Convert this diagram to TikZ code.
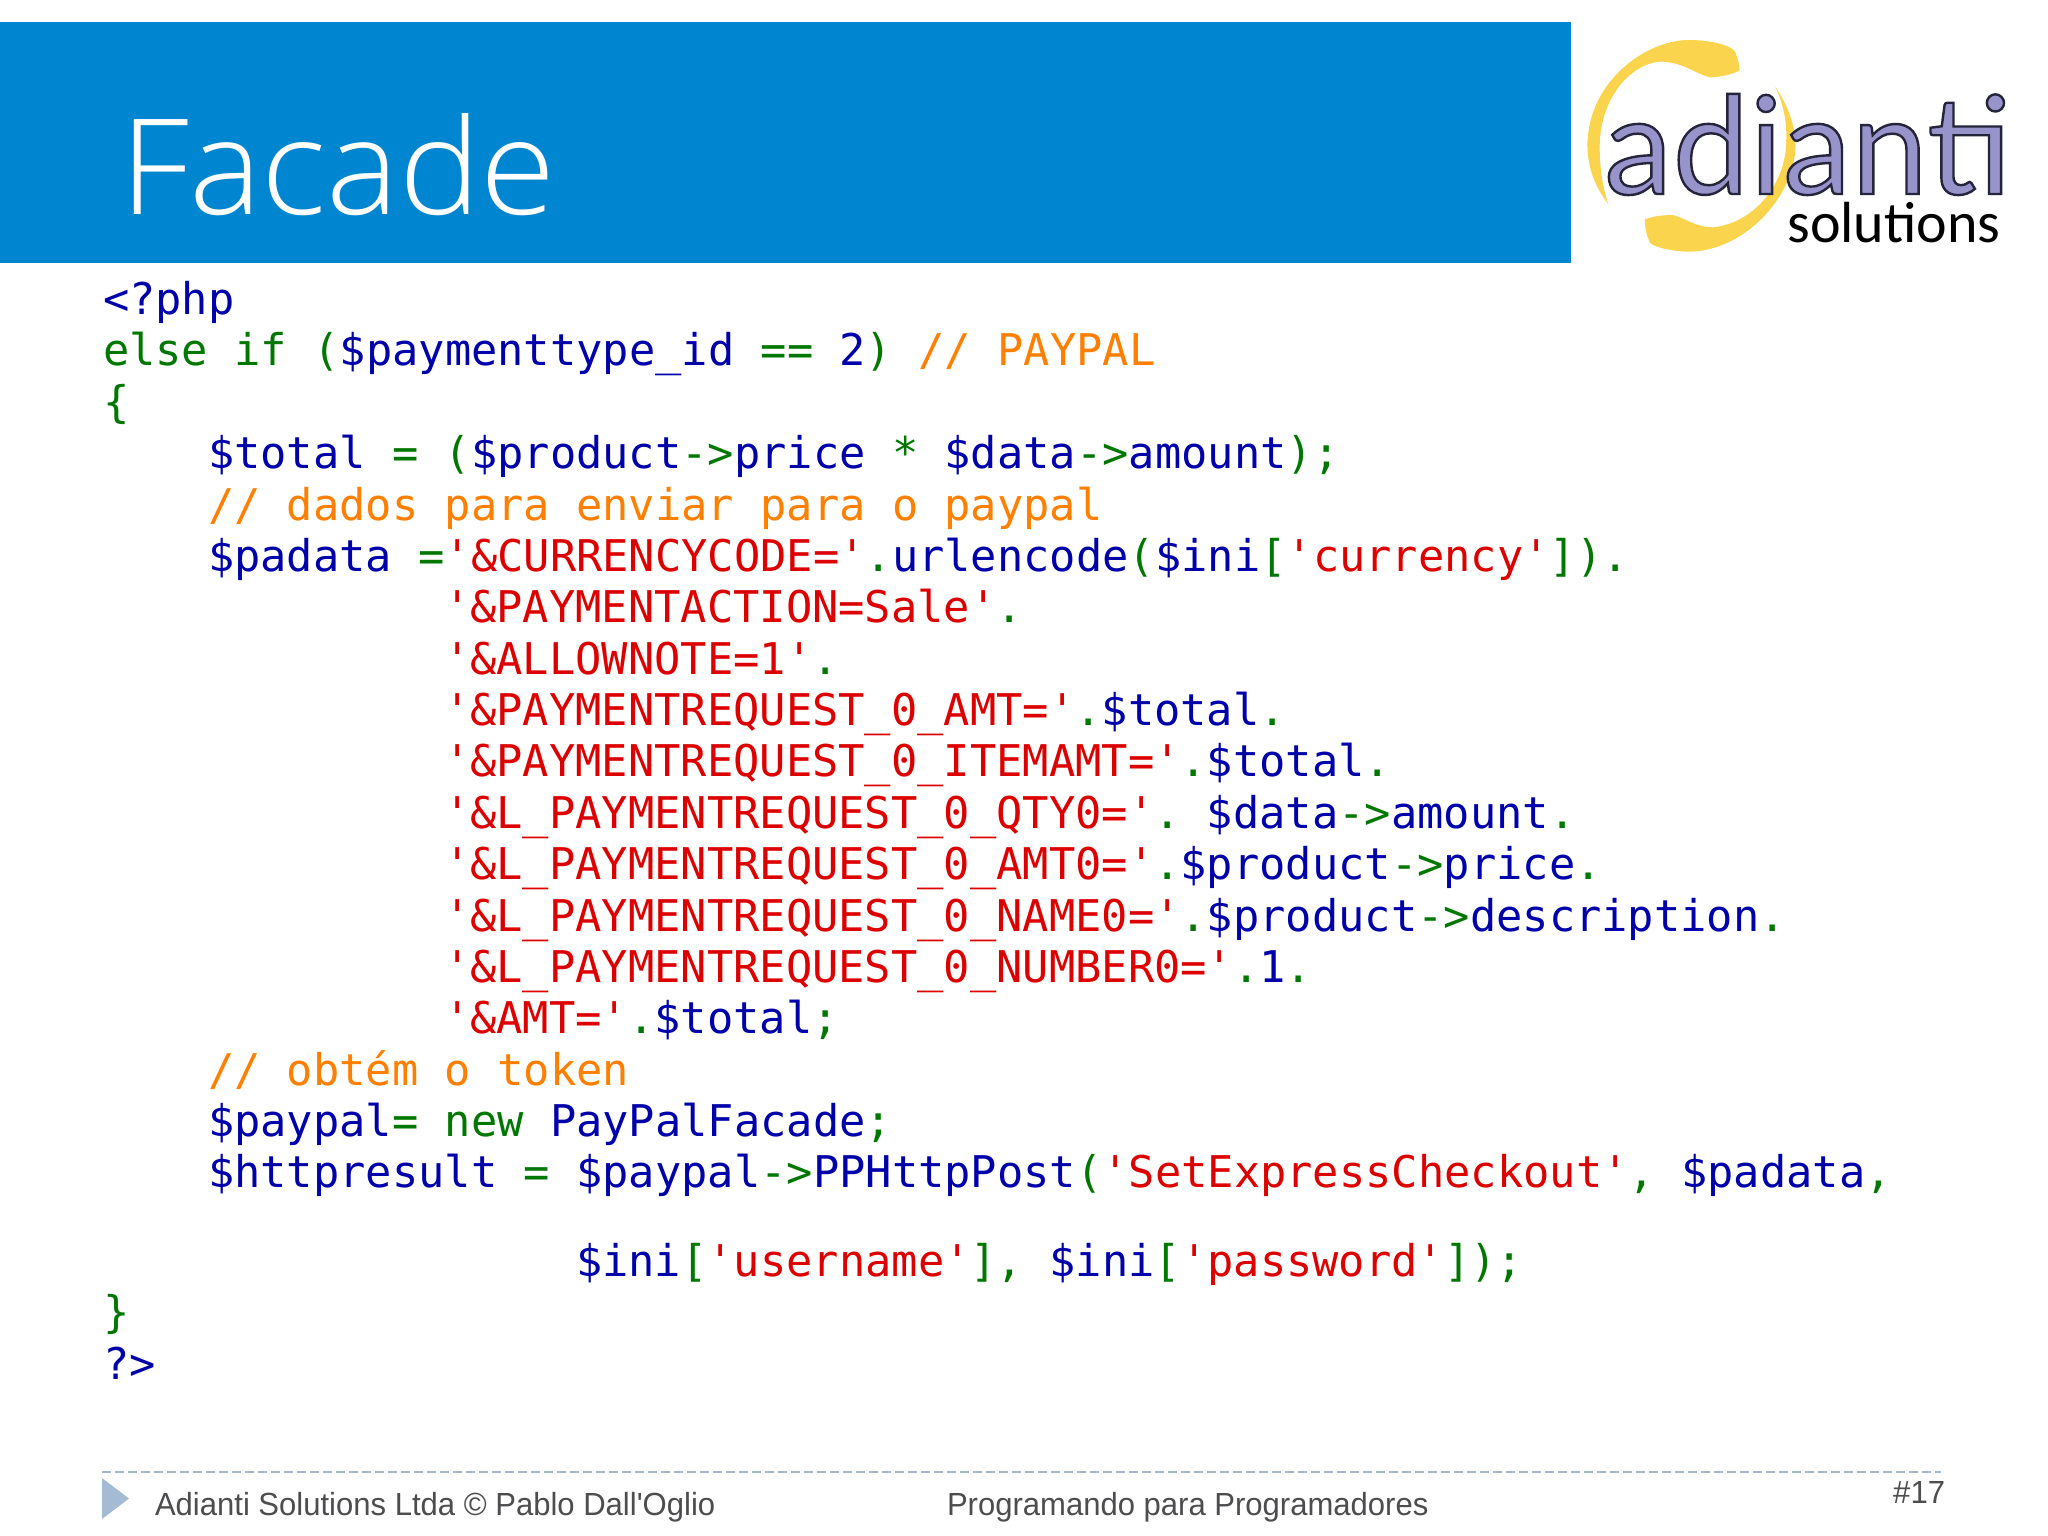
\documentclass[tikz,border=0pt]{standalone}
\usepackage{fontspec}
\newfontfamily\footfont{Liberation Sans}[FakeStretch=0.97]
\newfontfamily\codefont{DejaVu Sans Mono}
\newfontfamily\titlefont{Open Sans Light}[FakeStretch=1.03]
\newfontfamily\logofont{Lato}[LetterSpace=0.6]
\newfontfamily\subfont{Carlito}
\definecolor{headblue}{HTML}{0085D1}
\definecolor{kwgreen}{HTML}{007700}
\definecolor{varblue}{HTML}{0000AA}
\definecolor{strred}{HTML}{DD0000}
\definecolor{cmtorange}{HTML}{FF8000}
\definecolor{footgray}{HTML}{4D4D4F}
\definecolor{footblue}{HTML}{A5BBD3}
\definecolor{dashblue}{HTML}{A3B9C9}
\definecolor{logoyellow}{HTML}{FBD44E}
\definecolor{logopurple}{HTML}{9794CB}
\newcommand{\KW}[1]{\textcolor{kwgreen}{#1}}
\newcommand{\VB}[1]{\textcolor{varblue}{#1}}
\newcommand{\ST}[1]{\textcolor{strred}{#1}}
\newcommand{\CM}[1]{\textcolor{cmtorange}{#1}}
\newcommand{\outlined}[1]{{\color{logopurple}\special{pdf:code 2 Tr 1.2 w 0.14 0.14 0.23 RG}#1\special{pdf:code 0 Tr}}}
\tikzset{
  codeline/.style={anchor=base west,inner sep=0pt,outer sep=0pt,font=\codefont\fontsize{21.85pt}{26pt}\selectfont\frenchspacing},
  foottext/.style={inner sep=0pt,outer sep=0pt,text=footgray,font=\footfont\fontsize{16pt}{19pt}\selectfont},
  ringpart/.style={fill=logoyellow,draw=none}
}
\begin{document}
\begin{tikzpicture}[x=0.5pt,y=-0.5pt]
\useasboundingbox (0,0) rectangle (2048,1535);
\fill[white] (0,0) rectangle (2048,1535);
% header
\fill[headblue] (0,22) rectangle (1571,263);
\node[anchor=base west,inner sep=0pt,text=white,font=\titlefont\fontsize{66.5pt}{70pt}\selectfont] (title) at (120,215) {Facade};
% logo ring
\begin{scope}[shift={(1500,0)},xscale=0.3497,yscale=0.3333]
\path[ringpart] (310,612) .. controls (255,540) and (250,470) .. (250,430)
  .. controls (255,240) and (420,120) .. (540,120)
  .. controls (600,120) and (660,135) .. (672,155)
  .. controls (680,175) and (685,195) .. (685,212)
  .. controls (660,225) and (625,232) .. (600,232)
  .. controls (560,222) and (520,185) .. (460,185)
  .. controls (370,190) and (285,300) .. (285,440)
  .. controls (285,510) and (295,570) .. (310,612) -- cycle;
\path[ringpart] (787,260) .. controls (825,320) and (845,380) .. (845,440)
  .. controls (840,600) and (690,755) .. (540,755)
  .. controls (500,755) and (450,745) .. (430,730)
  .. controls (420,710) and (412,680) .. (415,658)
  .. controls (440,648) and (470,645) .. (495,645)
  .. controls (530,655) and (560,682) .. (610,682)
  .. controls (720,670) and (815,560) .. (818,430)
  .. controls (822,370) and (810,310) .. (787,260) -- cycle;
\end{scope}
% logo text
\node[anchor=base west,inner sep=0pt,font=\logofont\fontsize{68pt}{72pt}\selectfont] (logotext) at (1604,194) {\outlined{adianti}};
\node[anchor=base west,inner sep=0pt,text=black,font=\subfont\fontsize{29pt}{32pt}\selectfont] (logosub) at (1787,243) {solutions};
% code
\node[codeline] (l0) at (103,314.4) {\VB{<?php}};
\node[codeline] (l1) at (103,365.8) {\KW{else if (}\VB{\$paymenttype\_id} \KW{==} \VB{2}\KW{)} \CM{// PAYPAL}};
\node[codeline] (l2) at (103,417.2) {\KW{\{}};
\node[codeline] (l3) at (208,468.6) {\VB{\$total} \KW{= (}\VB{\$product}\KW{->}\VB{price} \KW{*} \VB{\$data}\KW{->}\VB{amount}\KW{);}};
\node[codeline] (l4) at (208,520) {\CM{// dados para enviar para o paypal}};
\node[codeline] (l5) at (208,571.4) {\VB{\$padata} \KW{=}\ST{'\&CURRENCYCODE='}\KW{.}\VB{urlencode}\KW{(}\VB{\$ini}\KW{[}\ST{'currency'}\KW{]).}};
\node[codeline] (l6) at (444,622.6) {\ST{'\&PAYMENTACTION=Sale'}\KW{.}};
\node[codeline] (l7) at (444,674) {\ST{'\&ALLOWNOTE=1'}\KW{.}};
\node[codeline] (l8) at (444,725.4) {\ST{'\&PAYMENTREQUEST\_0\_AMT='}\KW{.}\VB{\$total}\KW{.}};
\node[codeline] (l9) at (444,776.8) {\ST{'\&PAYMENTREQUEST\_0\_ITEMAMT='}\KW{.}\VB{\$total}\KW{.}};
\node[codeline] (l10) at (444,828.2) {\ST{'\&L\_PAYMENTREQUEST\_0\_QTY0='}\KW{.} \VB{\$data}\KW{->}\VB{amount}\KW{.}};
\node[codeline] (l11) at (444,879.6) {\ST{'\&L\_PAYMENTREQUEST\_0\_AMT0='}\KW{.}\VB{\$product}\KW{->}\VB{price}\KW{.}};
\node[codeline] (l12) at (444,931) {\ST{'\&L\_PAYMENTREQUEST\_0\_NAME0='}\KW{.}\VB{\$product}\KW{->}\VB{description}\KW{.}};
\node[codeline] (l13) at (444,982.4) {\ST{'\&L\_PAYMENTREQUEST\_0\_NUMBER0='}\KW{.}\VB{1}\KW{.}};
\node[codeline] (l14) at (444,1033.6) {\ST{'\&AMT='}\KW{.}\VB{\$total}\KW{;}};
\node[codeline] (l15) at (208,1085) {\CM{// obtém o token}};
\node[codeline] (l16) at (208,1136.4) {\VB{\$paypal}\KW{= new} \VB{PayPalFacade}\KW{;}};
\node[codeline] (l17) at (208,1187.6) {\VB{\$httpresult} \KW{=} \VB{\$paypal}\KW{->}\VB{PPHttpPost}\KW{(}\ST{'SetExpressCheckout'}\KW{,} \VB{\$padata}\KW{,}};
\node[codeline] (l18) at (576,1276.2) {\VB{\$ini}\KW{[}\ST{'username'}\KW{],} \VB{\$ini}\KW{[}\ST{'password'}\KW{]);}};
\node[codeline] (l19) at (103,1327.6) {\KW{\}}};
\node[codeline] (l20) at (103,1379) {\VB{?>}};
% footer
\coordinate (dashA) at (102,1472);
\coordinate (dashB) at (1941,1472);
\draw[dashblue,line width=1.2pt,dash pattern=on 4.5pt off 2pt] (dashA) -- (dashB);
\fill[footblue] (102,1478) -- (129,1498.5) -- (102,1519) -- cycle;
\node[foottext,anchor=base west] (foot1) at (155,1515) {Adianti Solutions Ltda © Pablo Dall'Oglio};
\node[foottext,anchor=base west] (foot2) at (947,1515) {Programando para Programadores};
\node[foottext,anchor=base east] (foot3) at (1945,1503) {\#17};
\end{tikzpicture}
\end{document}
